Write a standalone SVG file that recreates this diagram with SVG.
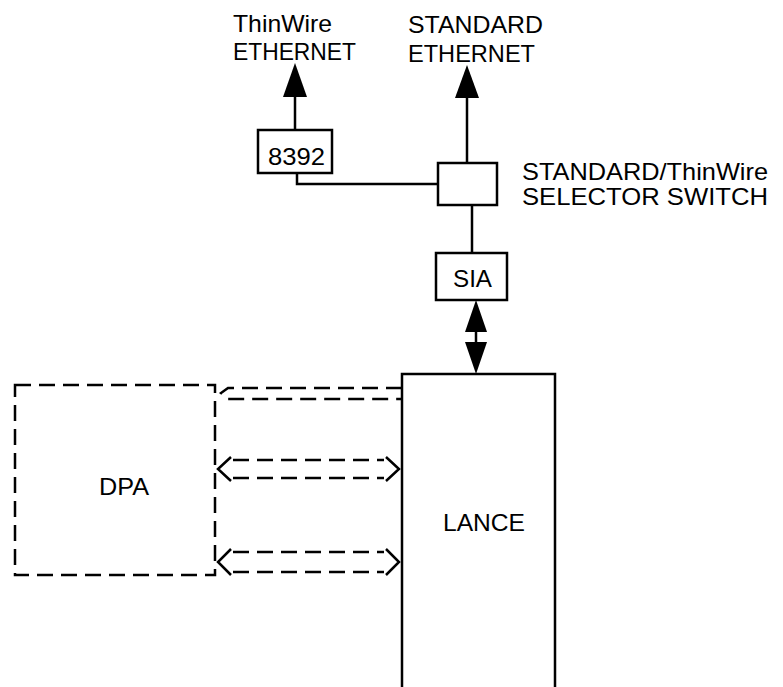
<svg xmlns="http://www.w3.org/2000/svg" width="783" height="687" viewBox="0 0 783 687">
<style>
text{font-family:"Liberation Sans",Arial,sans-serif;font-size:24px;fill:#000}
.box{fill:#fff;stroke:#000;stroke-width:2.5}
.dash{fill:none;stroke:#000;stroke-width:2.5;stroke-dasharray:16 8}
.ln{fill:none;stroke:#000;stroke-width:2.5}
.head{fill:#000}
</style>
<rect width="783" height="687" fill="#fff"/>
<g id="connectors">
<line class="ln" x1="295" y1="130" x2="295" y2="95"/>
<polygon class="head" points="295,63 283,97 307,97"/>
<polyline class="ln" points="297,173 297,184 438,184"/>
<line class="ln" x1="467" y1="163" x2="467" y2="95"/>
<polygon class="head" points="467,65 455,98 479,98"/>
<line class="ln" x1="472" y1="205" x2="472" y2="253"/>
<line class="ln" x1="476" y1="328" x2="476" y2="346"/>
<polygon class="head" points="476,300 465,332 487,332"/>
<polygon class="head" points="476,374 465,342 487,342"/>
<path class="dash" d="M402,388 H228 L221,393 L228,399 H402"/>
<path class="dash" d="M233,460 H384 M233,478 H384"/>
<path class="ln" d="M231,457 L218,469 L231,481 M386,457 L399,469 L386,481" stroke-width="2"/>
<path class="dash" d="M233,552 H384 M233,572 H384"/>
<path class="ln" d="M231,549 L218,562 L231,575 M386,549 L399,562 L386,575" stroke-width="2"/>
</g>
<g id="thinwire-label"><text x="233" y="32" textLength="99" lengthAdjust="spacingAndGlyphs">ThinWire</text><text x="233" y="60" textLength="123" lengthAdjust="spacingAndGlyphs">ETHERNET</text></g>
<g id="standard-label"><text x="408" y="33" textLength="135" lengthAdjust="spacingAndGlyphs">STANDARD</text><text x="408" y="62" textLength="127" lengthAdjust="spacingAndGlyphs">ETHERNET</text></g>
<g id="n8392"><rect class="box" x="258" y="130" width="74" height="43"/><text x="268" y="165" textLength="57" lengthAdjust="spacingAndGlyphs">8392</text></g>
<g id="switch"><rect class="box" x="438" y="163" width="59" height="42"/><text x="522" y="180" textLength="246" lengthAdjust="spacingAndGlyphs">STANDARD/ThinWire</text><text x="522" y="205" textLength="246" lengthAdjust="spacingAndGlyphs">SELECTOR SWITCH</text></g>
<g id="sia"><rect class="box" x="436" y="253" width="71" height="47"/><text x="453" y="287" textLength="39" lengthAdjust="spacingAndGlyphs">SIA</text></g>
<g id="lance"><path class="ln" d="M402,690 V374 H555 V690"/><text x="443" y="531" textLength="82" lengthAdjust="spacingAndGlyphs">LANCE</text></g>
<g id="dpa"><rect class="dash" x="15" y="385" width="200" height="190"/><text x="99" y="495" textLength="50" lengthAdjust="spacingAndGlyphs">DPA</text></g>
</svg>
